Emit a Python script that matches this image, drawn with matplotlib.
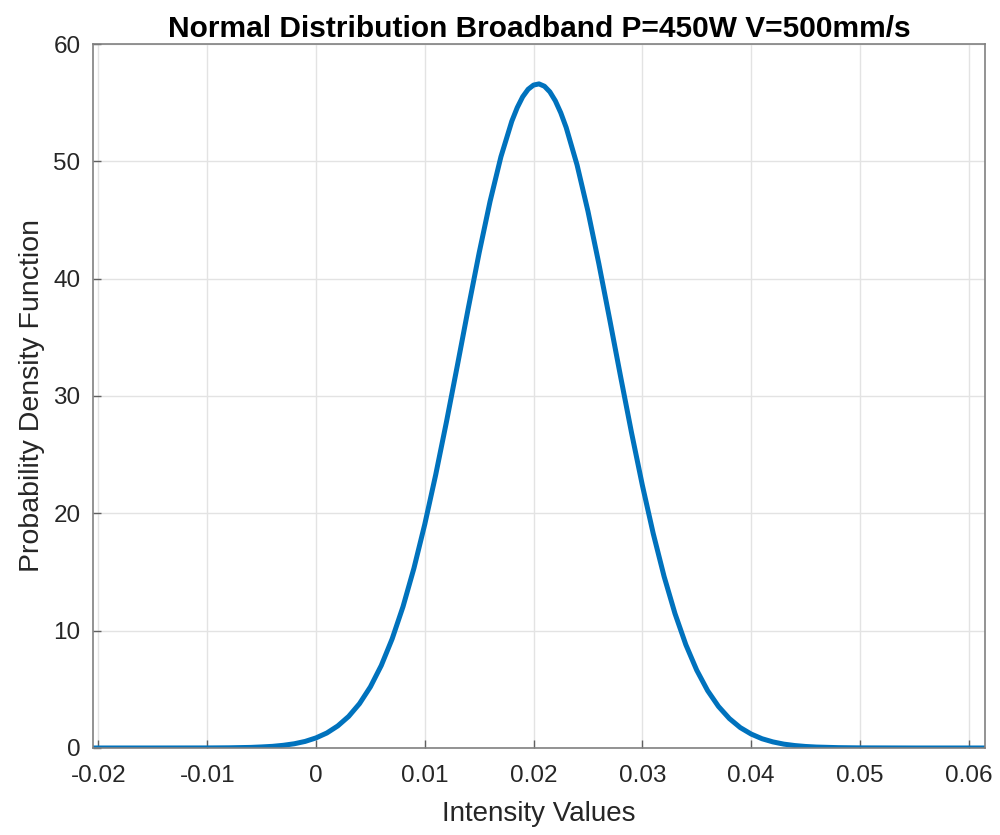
import matplotlib
matplotlib.use('Agg')
import matplotlib.pyplot as plt

# intensity values (x) and fitted PDF values (y)
intensity = [-0.0205, -0.015, -0.010, -0.008,
             -0.006, -0.005, -0.004, -0.003, -0.002, -0.001,
             0.000, 0.001, 0.002, 0.003, 0.004, 0.005, 0.006, 0.007, 0.008, 0.009,
             0.010, 0.011, 0.012, 0.013, 0.014, 0.015, 0.016, 0.017, 0.018, 0.0185,
             0.019, 0.0195, 0.020, 0.0205, 0.021, 0.0215, 0.022, 0.0225, 0.023, 0.024,
             0.025, 0.026, 0.027, 0.028, 0.029, 0.030, 0.031, 0.032, 0.033, 0.034,
             0.035, 0.036, 0.037, 0.038, 0.039, 0.040, 0.041, 0.042, 0.043, 0.044,
             0.045, 0.046, 0.048, 0.050, 0.055, 0.0615]
pdf = [0.0, 0.0, 0.005, 0.017,
       0.05, 0.09, 0.14, 0.23, 0.36, 0.56,
       0.86, 1.28, 1.88, 2.69, 3.78, 5.21, 7.03, 9.30, 12.05, 15.31,
       19.07, 23.27, 27.83, 32.62, 37.49, 42.21, 46.58, 50.39, 53.42, 54.58,
       55.5, 56.14, 56.5, 56.6, 56.4, 55.92, 55.16, 54.14, 52.88, 49.69,
       45.75, 41.28, 36.52, 31.66, 26.90, 22.40, 18.28, 14.62, 11.46, 8.80,
       6.63, 4.89, 3.54, 2.51, 1.74, 1.19, 0.79, 0.52, 0.33, 0.21,
       0.13, 0.08, 0.03, 0.01, 0.0, 0.0]

xticks = [-0.02, -0.01, 0, 0.01, 0.02, 0.03, 0.04, 0.05, 0.06]
xticklabels = ['-0.02', '-0.01', '0', '0.01', '0.02', '0.03', '0.04', '0.05', '0.06']
yticks = [0, 10, 20, 30, 40, 50, 60]

plt.rcParams['font.family'] = ['Liberation Sans', 'DejaVu Sans']

fig = plt.figure(figsize=(10, 8.35), dpi=100)
ax = fig.add_axes([0.093, 0.1042, 0.892, 0.8431])

ax.plot(intensity, pdf, color='#0072BD', linewidth=3.6,
        solid_joinstyle='round', solid_capstyle='butt')

ax.set_xlim(-0.0205, 0.0615)
ax.set_ylim(0, 60)
ax.set_xticks(xticks)
ax.set_xticklabels(xticklabels)
ax.set_yticks(yticks)

ax.grid(True, color='#e3e3e3', linewidth=1.0)
ax.set_axisbelow(True)
for s in ax.spines.values():
    s.set_color('#808080')
    s.set_linewidth(1.2)
ax.tick_params(direction='in', length=6, width=1.0, color='#606060',
               labelsize=17.5, labelcolor='#262626', top=False, right=False)
ax.tick_params(axis='x', pad=12)
ax.tick_params(axis='y', pad=9)

ax.set_title('Normal Distribution Broadband P=450W V=500mm/s',
             fontsize=21.5, fontweight='bold', pad=5)
ax.set_xlabel('Intensity Values', fontsize=20, color='#262626', labelpad=10)
ax.set_ylabel('Probability Density Function', fontsize=20.5, color='#262626',
              labelpad=6)

fig.savefig('out.png', dpi=100)
